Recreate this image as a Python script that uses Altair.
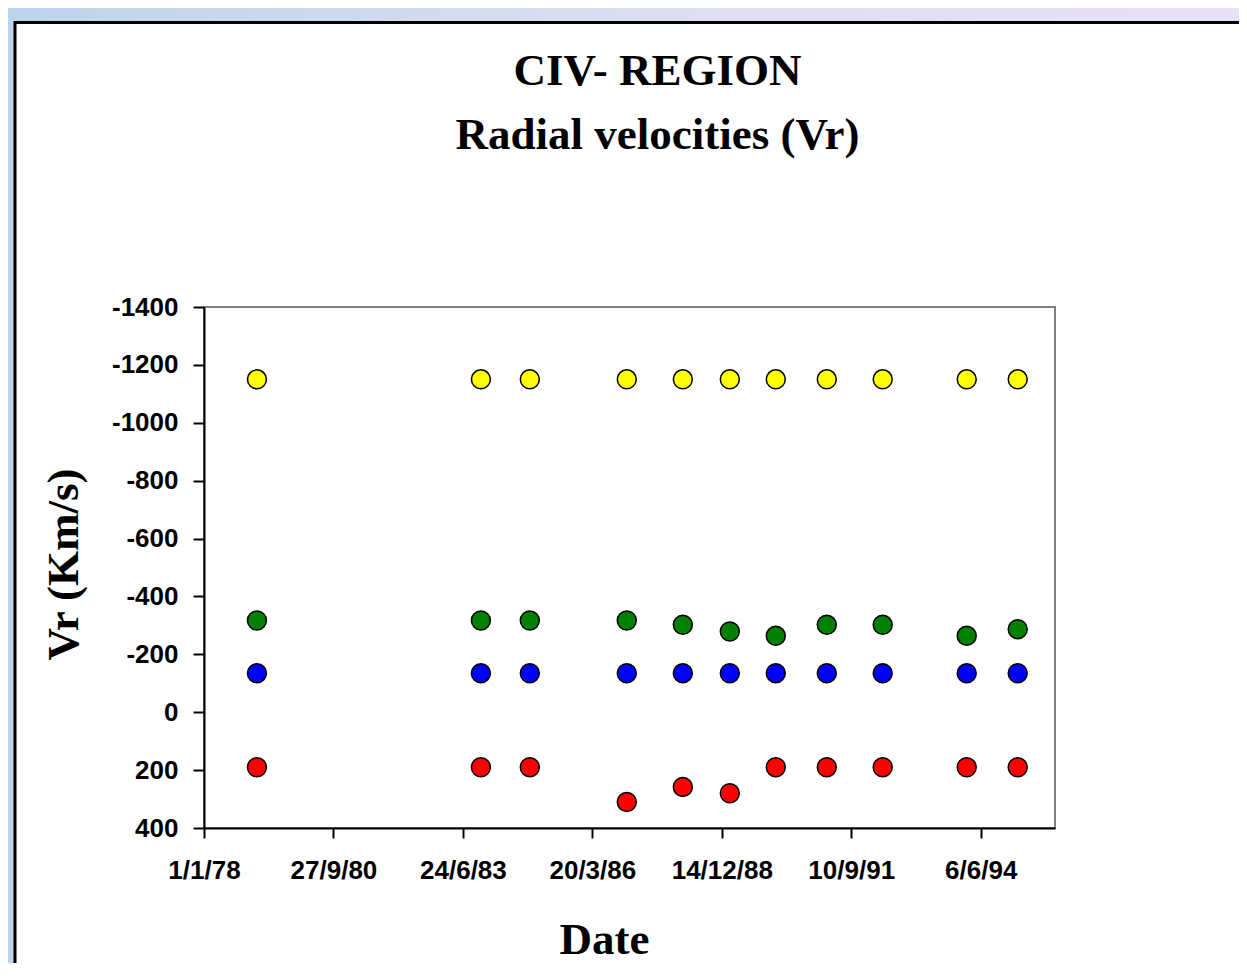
import altair as alt
import pandas as pd

# ---- data ----
obs_dates = ["1979/02/14", "1983/11/10", "1984/11/22", "1986/12/11", "1988/02/17",
             "1989/02/14", "1990/02/04", "1991/03/05", "1992/05/10", "1994/02/18",
             "1995/03/19"]
vr_yellow = [-1150, -1150, -1150, -1150, -1150, -1150, -1150, -1150, -1150, -1150, -1150]
vr_green = [-317, -317, -317, -317, -302, -279, -264, -302, -302, -264, -287]
vr_blue = [-135, -135, -135, -135, -135, -135, -135, -135, -135, -135, -135]
vr_red = [190, 190, 190, 310, 258, 280, 190, 190, 190, 190, 190]

series_names = ["yellow", "green", "blue", "red"]
series_colors = ["#ffff00", "#008000", "#0000ff", "#ff0000"]

tick_dates = ["1978/01/01", "1980/09/27", "1983/06/24", "1986/03/20",
              "1988/12/14", "1991/09/10", "1994/06/06"]
y_ticks = [-1400, -1200, -1000, -800, -600, -400, -200, 0, 200, 400]
x_domain = ["1978/01/01", "1996/01/01"]
y_domain = [-1400, 400]

rows = []
for name, vals in zip(series_names, [vr_yellow, vr_green, vr_blue, vr_red]):
    for d, v in zip(obs_dates, vals):
        rows.append({"date": d, "vr": v, "series": name})
df = pd.DataFrame(rows)


def to_dt(s):
    y, m, d = [int(p) for p in s.split("/")]
    return alt.DateTime(year=y, month=m, date=d)


W, H = 851, 521
PAD = {"left": 196, "top": 299, "right": 184, "bottom": 135}
one = pd.DataFrame({"k": [0]})

# decorative slide background (gradient strip + white framed panel)
bg = alt.Chart(one).mark_rect(
    fill=alt.Gradient(
        gradient="linear",
        stops=[alt.GradientStop(color="#bcd3ea", offset=0),
               alt.GradientStop(color="#d2dcee", offset=0.35),
               alt.GradientStop(color="#e1def4", offset=0.6),
               alt.GradientStop(color="#e7e1f5", offset=1)],
        x1=0, x2=1, y1=0, y2=0),
).encode(x=alt.value(-PAD["left"]), x2=alt.value(W + PAD["right"]),
         y=alt.value(-PAD["top"]), y2=alt.value(H + PAD["bottom"]))

panel = alt.Chart(one).mark_rect(
    fill="white", stroke="black", strokeWidth=3
).encode(x=alt.value(-189), x2=alt.value(W + PAD["right"] + 20),
         y=alt.value(-284.5), y2=alt.value(H + PAD["bottom"] + 20))

xscale = alt.Scale(domain=[to_dt(s) for s in x_domain], nice=False)
yscale = alt.Scale(domain=y_domain, reverse=True, nice=False)

border = alt.Chart(one).mark_rect(
    fillOpacity=0, stroke="#808080", strokeWidth=2
).encode(
    x=alt.datum(to_dt(x_domain[0]), scale=xscale, type="temporal"),
    x2=alt.datum(to_dt(x_domain[1])),
    y=alt.datum(y_domain[0], scale=yscale, type="quantitative"),
    y2=alt.datum(y_domain[1]),
)

points = alt.Chart(df).mark_circle(
    size=360, opacity=1, stroke="black", strokeWidth=1.5
).encode(
    x=alt.X("date:T", scale=xscale,
            axis=alt.Axis(values=[to_dt(s) for s in tick_dates],
                          format="%-d/%-m/%y", labelFlush=False, labelOverlap=False,
                          labelFont="Liberation Sans", labelFontSize=26,
                          labelFontWeight="bold", labelColor="black",
                          labelPadding=19, tickSize=10, tickWidth=2,
                          tickColor="black", domainColor="black", domainWidth=2,
                          grid=False, zindex=1,
                          title="Date", titleFont="Liberation Serif",
                          titleFontSize=45, titleFontWeight="bold",
                          titleColor="black", titleX=400, titleY=125,
                          titleBaseline="alphabetic", titleAlign="center")),
    y=alt.Y("vr:Q", scale=yscale,
            axis=alt.Axis(values=y_ticks, labelExpr="'' + datum.value",
                          labelFlush=False, labelOverlap=False,
                          labelFont="Liberation Sans", labelFontSize=26,
                          labelFontWeight="bold", labelColor="black",
                          labelPadding=15, tickSize=11, tickWidth=2,
                          tickColor="black", domainColor="black", domainWidth=2,
                          grid=False, zindex=1,
                          title="Vr (Km/s)", titleFont="Liberation Serif",
                          titleFontSize=45, titleFontWeight="bold",
                          titleColor="black", titleX=-127, titleY=257,
                          titleAngle=-90, titleBaseline="alphabetic",
                          titleAlign="center")),
    color=alt.Color("series:N", scale=alt.Scale(domain=series_names, range=series_colors),
                    legend=None),
)

chart = alt.layer(bg, panel, border, points).properties(
    width=W, height=H,
    autosize=alt.AutoSizeParams(type="none"),
    padding=PAD,
    background="white",
    title=alt.TitleParams(
        text=["CIV- REGION", "Radial velocities (Vr)"],
        font="Liberation Serif", fontSize=45, fontWeight="bold", color="black",
        lineHeight=64, anchor="middle", frame="group", dx=28, offset=-150),
).configure_view(strokeWidth=0)

chart.save("out.html", embed_options={"renderer": "svg", "actions": False})
